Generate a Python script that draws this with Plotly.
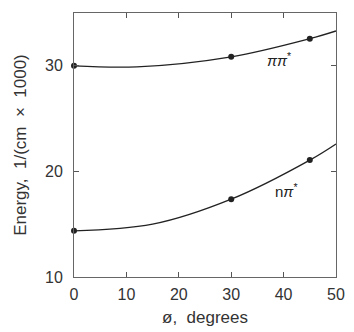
import plotly.graph_objects as go

# measured data points
angle_pts = [0, 30, 45]
pipi_pts = [30.0, 30.85, 32.57]
npi_pts = [14.37, 17.37, 21.07]

# smooth curves
pipi_curve_x = [0, 12, 30, 45, 50]
pipi_curve_y = [30.0, 29.9, 30.85, 32.57, 33.3]
npi_curve_x = [0, 15, 30, 45, 50]
npi_curve_y = [14.37, 15.0, 17.37, 21.07, 22.6]

x_ticks = [0, 10, 20, 30, 40, 50]
y_ticks = [10, 20, 30]

ink = "#222222"
font = "Liberation Sans, Arial, sans-serif"

fig = go.Figure()
for cx, cy in [(pipi_curve_x, pipi_curve_y), (npi_curve_x, npi_curve_y)]:
    fig.add_trace(go.Scatter(x=cx, y=cy, mode="lines",
                             line=dict(color=ink, width=1.3, shape="spline", smoothing=1.0),
                             hoverinfo="skip", showlegend=False))
for py in [pipi_pts, npi_pts]:
    fig.add_trace(go.Scatter(x=angle_pts, y=py, mode="markers",
                             marker=dict(color=ink, size=6),
                             showlegend=False, cliponaxis=False))

fig.add_annotation(x=39.2, y=30.55, text="<i>\u03c0\u03c0</i><sup>*</sup>", showarrow=False,
                   font=dict(family=font, size=15, color=ink))
fig.add_annotation(x=40.6, y=18.2, text="n<i>\u03c0</i><sup>*</sup>", showarrow=False,
                   font=dict(family=font, size=15, color=ink))

axis_common = dict(showline=True, linecolor="#666666", linewidth=1, mirror="ticks",
                   ticks="inside", ticklen=5, tickcolor="#555555", showgrid=False,
                   zeroline=False, tickfont=dict(family=font, size=16, color="#333333"))

fig.update_layout(
    width=354, height=332,
    margin=dict(l=74, r=9, t=13, b=53),
    paper_bgcolor="white", plot_bgcolor="white",
    xaxis=dict(range=[0, 50], tickvals=x_ticks, ticklabelstandoff=3,
               title=dict(text="\u00f8,  degrees", standoff=8,
                          font=dict(family=font, size=17, color="#333333")),
               **axis_common),
    yaxis=dict(range=[10, 35], tickvals=y_ticks, ticklabelstandoff=7,
               title=dict(text="Energy,  1/(cm  \u00d7  1000)", standoff=14,
                          font=dict(family=font, size=17, color="#333333")),
               **axis_common),
)

# remove the default page margin so the figure fills the window exactly
fig.write_html("out.html", config={"displayModeBar": False},
               post_script="document.body.style.margin='0px';document.body.style.overflow='hidden';")
